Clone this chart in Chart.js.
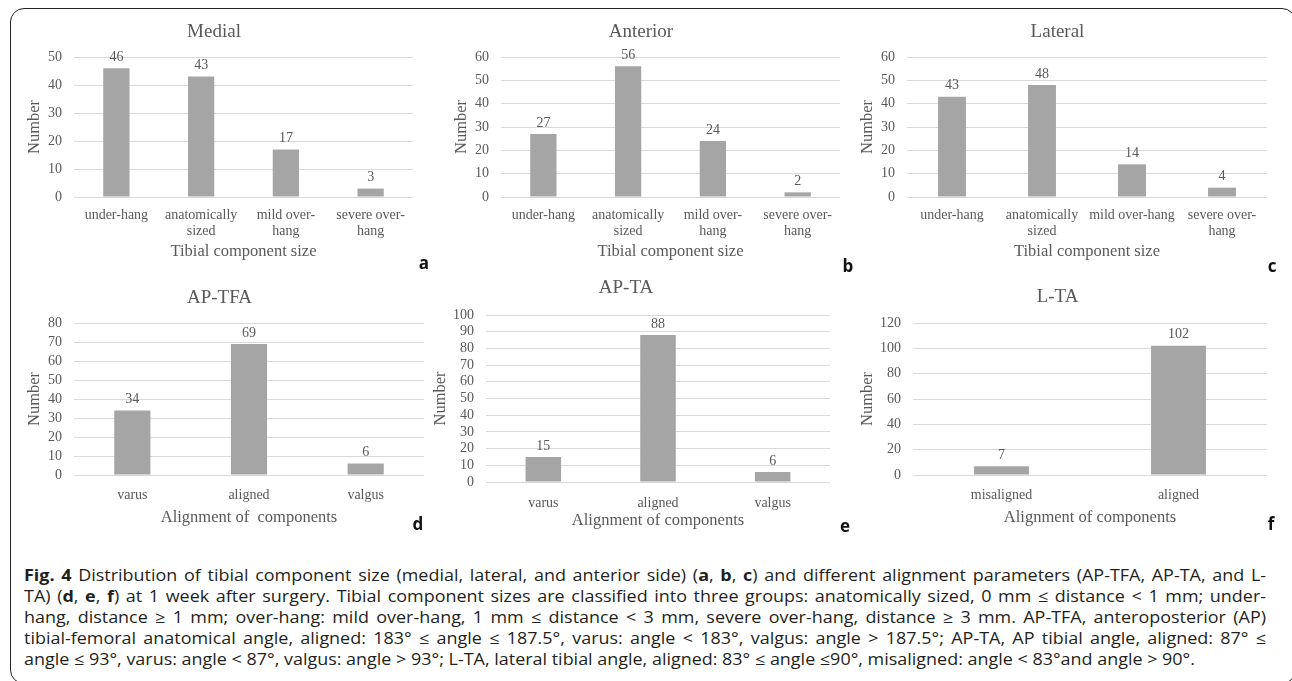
<!DOCTYPE html>
<html>
<head>
<meta charset="utf-8">
<script src="https://cdn.jsdelivr.net/npm/chart.js@4.4.1/dist/chart.umd.min.js"></script>
<style>
  html, body { margin: 0; padding: 0; background: #fff; }
  body { width: 1292px; height: 681px; position: relative; overflow: hidden; }
  #frame {
    position: absolute; left: 10px; top: 8px; width: 1286px; height: 676px;
    border: 1.5px solid #222; border-radius: 14px; box-sizing: border-box;
  }
  canvas { position: absolute; }
  .tag {
    position: absolute; font-family: "Open Sans", sans-serif; font-weight: 700;
    font-size: 17px; color: #111; transform: translate(-50%, -50%); line-height: 1;
  }
  #caption {
    position: absolute; left: 24px; top: 565px; width: 1242px;
    font-family: "Open Sans", sans-serif; font-size: 16px; color: #231f20;
    transform-origin: 0 0;
  }
  #caption div { height: 21px; line-height: 21px; white-space: nowrap; }
  #caption div.j { text-align: justify; text-align-last: justify; white-space: normal; }
</style>
</head>
<body>
<div id="frame"></div>

<canvas id="cA"></canvas>
<canvas id="cB"></canvas>
<canvas id="cC"></canvas>
<canvas id="cD"></canvas>
<canvas id="cE"></canvas>
<canvas id="cF"></canvas>

<div class="tag" style="left:424px;top:262px">a</div>
<div class="tag" style="left:848px;top:265px">b</div>
<div class="tag" style="left:1272px;top:265px">c</div>
<div class="tag" style="left:418px;top:523px">d</div>
<div class="tag" style="left:845px;top:525px">e</div>
<div class="tag" style="left:1271px;top:523px">f</div>

<div id="caption">
  <div class="j"><b>Fig. 4</b> Distribution of tibial component size (medial, lateral, and anterior side) (<b>a</b>, <b>b</b>, <b>c</b>) and different alignment parameters (AP-TFA, AP-TA, and L-</div>
  <div class="j">TA) (<b>d</b>, <b>e</b>, <b>f</b>) at 1 week after surgery. Tibial component sizes are classified into three groups: anatomically sized, 0&nbsp;mm ≤ distance &lt; 1&nbsp;mm; under-</div>
  <div class="j">hang, distance ≥ 1&nbsp;mm; over-hang: mild over-hang, 1&nbsp;mm ≤ distance &lt; 3&nbsp;mm, severe over-hang, distance ≥ 3&nbsp;mm. AP-TFA, anteroposterior (AP)</div>
  <div class="j">tibial-femoral anatomical angle, aligned: 183° ≤ angle ≤ 187.5°, varus: angle &lt; 183°, valgus: angle &gt; 187.5°; AP-TA, AP tibial angle, aligned: 87° ≤</div>
  <div id="lastLine">angle ≤ 93°, varus: angle &lt; 87°, valgus: angle &gt; 93°; L-TA, lateral tibial angle, aligned: 83° ≤ angle ≤90°, misaligned: angle &lt; 83°and angle &gt; 90°.</div>
</div>

<script>
// categories
const sizeCats = ['under-hang', ['anatomically', 'sized'], ['mild over-', 'hang'], ['severe over-', 'hang']];
const sizeCatsLateral = ['under-hang', ['anatomically', 'sized'], 'mild over-hang', ['severe over-', 'hang']];
const alignCats3 = ['varus', 'aligned', 'valgus'];
const alignCats2 = ['misaligned', 'aligned'];

// values (number of cases)
const medialVals = [46, 43, 17, 3];
const anteriorVals = [27, 56, 24, 2];
const lateralVals = [43, 48, 14, 4];
const apTfaVals = [34, 69, 6];
const apTaVals = [15, 88, 6];
const lTaVals = [7, 102];

// y axis ranges
const yMax = [50, 60, 60, 80, 100, 120];
const yStep = [10, 10, 10, 10, 10, 20];

const titles = ['Medial', 'Anterior', 'Lateral', 'AP-TFA', 'AP-TA', 'L-TA'];
const xTitles = ['Tibial component size', 'Tibial component size', 'Tibial component size',
                 'Alignment of  components', 'Alignment of components', 'Alignment of components'];

const SERIF = '"Liberation Serif", "Times New Roman", serif';
const TXT = '#595959';
const BAR = '#a5a5a5';
const GRID = '#d9d9d9';

// value labels above the bars
const barValues = {
  id: 'barValues',
  afterDatasetsDraw(chart) {
    const ctx = chart.ctx;
    const meta = chart.getDatasetMeta(0);
    const data = chart.data.datasets[0].data;
    ctx.save();
    ctx.font = '14px ' + SERIF;
    ctx.fillStyle = TXT;
    ctx.textAlign = 'center';
    ctx.textBaseline = 'bottom';
    meta.data.forEach((bar, i) => {
      ctx.fillText(String(data[i]), bar.x, bar.y - 4);
    });
    ctx.restore();
  }
};

// page geometry of each panel: canvas box, plot box, title / axis title centres
const layouts = [
  { id: 'cA', box: [15, 12, 406, 258],  plot: [74, 57, 413, 197],   titleY: 32,  yTitleX: 35,  xTitleY: 252, tickPad: 3 },
  { id: 'cB', box: [442, 12, 406, 258], plot: [501, 57, 840, 197],  titleY: 32,  yTitleX: 462, xTitleY: 252, tickPad: 3 },
  { id: 'cC', box: [848, 12, 426, 258], plot: [907, 57, 1267, 197], titleY: 32,  yTitleX: 868, xTitleY: 252, tickPad: 3 },
  { id: 'cD', box: [15, 278, 417, 258], plot: [74, 323, 424, 475],  titleY: 298, yTitleX: 35,  xTitleY: 518, tickPad: 5 },
  { id: 'cE', box: [422, 268, 420, 272], plot: [486, 315, 830, 482], titleY: 288, yTitleX: 441, xTitleY: 521, tickPad: 6 },
  { id: 'cF', box: [848, 277, 444, 260], plot: [913, 323, 1267, 475], titleY: 297, yTitleX: 868, xTitleY: 518, tickPad: 5 }
];

const panelLabels = [sizeCats, sizeCats, sizeCatsLateral, alignCats3, alignCats3, alignCats2];
const panelValues = [medialVals, anteriorVals, lateralVals, apTfaVals, apTaVals, lTaVals];

const TITLE_SIZE = 19, AXIS_TITLE_SIZE = 16.5;

function makePanel(i) {
  const L = layouts[i];
  const [x, y, w, h] = L.box;
  const [pl, pt, pr, pb] = L.plot;
  const canvas = document.getElementById(L.id);
  canvas.width = w;
  canvas.height = h;
  canvas.style.left = x + 'px';
  canvas.style.top = y + 'px';

  const tLH = TITLE_SIZE * 1.2;
  const aLH = AXIS_TITLE_SIZE * 1.2;
  const titleTop = L.titleY - y - tLH / 2;
  const titleBottom = (pt - y) - titleTop - tLH;
  const yAxisWidth = pl - x;
  const xAxisHeight = y + h - pb;

  new Chart(canvas.getContext('2d'), {
    type: 'bar',
    data: {
      labels: panelLabels[i],
      datasets: [{
        data: panelValues[i],
        backgroundColor: BAR,
        barPercentage: 0.31,
        categoryPercentage: 1
      }]
    },
    options: {
      responsive: false,
      animation: false,
      layout: { padding: { left: 0, top: 0, right: x + w - pr, bottom: 0 } },
      plugins: {
        legend: { display: false },
        tooltip: { enabled: false },
        title: {
          display: true,
          text: titles[i],
          color: TXT,
          font: { family: SERIF, size: TITLE_SIZE, weight: 'normal', lineHeight: 1.2 },
          padding: { top: titleTop, bottom: titleBottom }
        }
      },
      scales: {
        x: {
          grid: { display: false },
          border: { display: false },
          ticks: {
            color: TXT, padding: L.tickPad, maxRotation: 0, autoSkip: false,
            font: { family: SERIF, size: 14, lineHeight: 1.1 }
          },
          title: {
            display: true, text: xTitles[i], color: TXT,
            font: { family: SERIF, size: AXIS_TITLE_SIZE, lineHeight: 1.2 },
            padding: { top: 0, bottom: (y + h) - L.xTitleY - aLH / 2 }
          },
          afterFit: s => { s.height = xAxisHeight; }
        },
        y: {
          min: 0,
          max: yMax[i],
          ticks: {
            stepSize: yStep[i], autoSkip: false, color: TXT, padding: 12,
            font: { family: SERIF, size: 14 }
          },
          grid: { color: GRID, lineWidth: 1, drawTicks: false },
          border: { display: false },
          title: {
            display: true, text: 'Number', color: TXT,
            font: { family: SERIF, size: AXIS_TITLE_SIZE, lineHeight: 1.2 },
            padding: { top: L.yTitleX - x - aLH / 2, bottom: 0 }
          },
          afterFit: s => { s.width = yAxisWidth; }
        }
      }
    },
    plugins: [barValues]
  });
}

for (let i = 0; i < layouts.length; i++) makePanel(i);

// squeeze the caption horizontally so its lines fit the reference widths
(function fitCaption() {
  const cap = document.getElementById('caption');
  const lines = Array.from(cap.children);
  const widths = lines.map(line => {
    const probe = document.createElement('span');
    probe.innerHTML = line.innerHTML;
    probe.style.whiteSpace = 'nowrap';
    probe.style.position = 'absolute';
    probe.style.visibility = 'hidden';
    cap.appendChild(probe);
    const wd = probe.getBoundingClientRect().width;
    cap.removeChild(probe);
    return wd;
  });
  const justified = Math.max(...widths.slice(0, 4));
  const k = Math.min(1171 / widths[4], 1236 / justified);
  cap.style.width = (1242 / k) + 'px';
  cap.style.transform = 'scaleX(' + k.toFixed(4) + ')';
})();
</script>
</body>
</html>
